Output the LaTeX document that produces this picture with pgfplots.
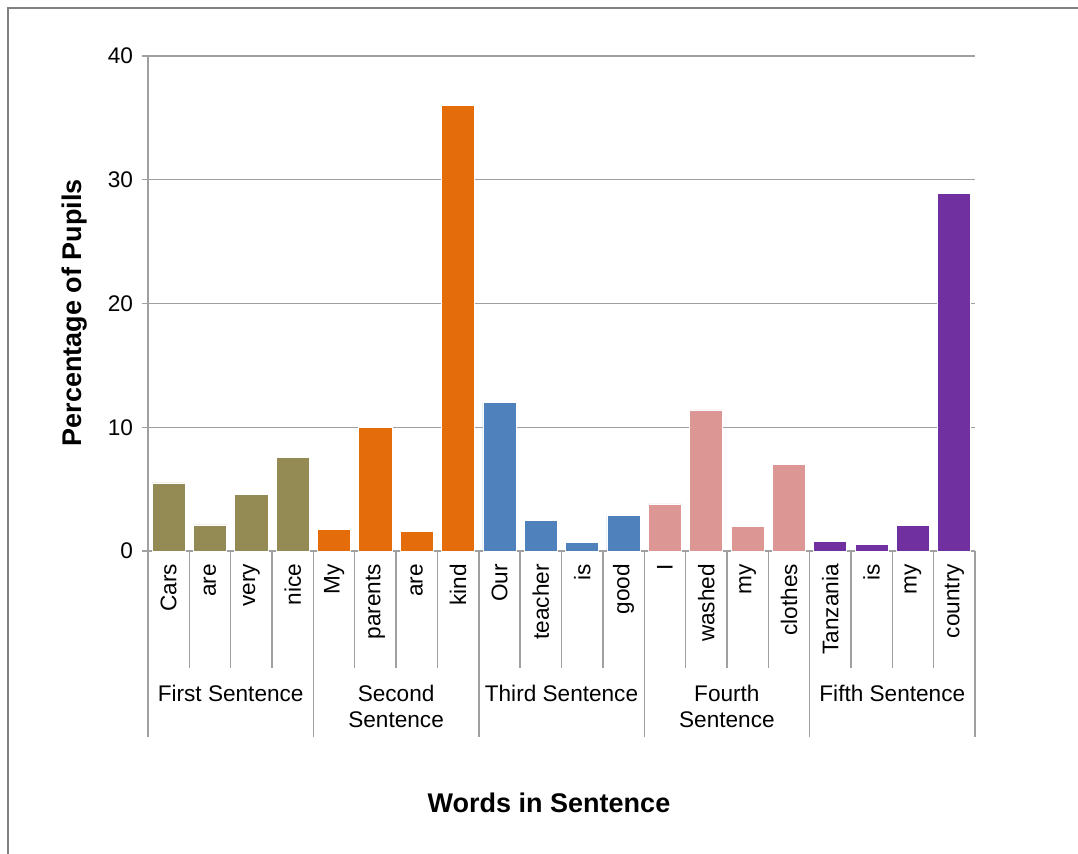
\documentclass[border=0pt]{standalone}
\usepackage{pgfplots}
\pgfplotsset{compat=1.18}
\usepackage{fontspec}
\setmainfont{Liberation Sans}
\definecolor{cOlive}{HTML}{948A54}
\definecolor{cOrange}{HTML}{E46C0A}
\definecolor{cBlue}{HTML}{4F81BD}
\definecolor{cPink}{HTML}{DC9694}
\definecolor{cPurple}{HTML}{7030A0}
\definecolor{cGrid}{HTML}{A0A0A0}
\newcommand{\lbl}{\fontsize{11.3}{13}\selectfont}
\begin{document}
\begin{tikzpicture}
\useasboundingbox (0,0) rectangle (539pt,427pt);
\draw[color=gray, line width=1pt] (4pt,0) -- (4pt,423pt) -- (539pt,423pt);
\begin{axis}[
  at={(74pt,151.5pt)}, anchor=south west,
  scale only axis, width=413.5pt, height=247.5pt,
  xmin=-0.5, xmax=19.5, ymin=0, ymax=40,
  axis x line*=bottom, axis y line*=left,
  axis line style={cGrid, line width=0.7pt, -},
  ytick={0,10,20,30,40},
  ymajorgrids, grid style={cGrid, line width=0.7pt},
  tick align=outside, major tick length=3pt,
  ytick style={cGrid, line width=0.7pt},
  xtick={0,...,19},
  xtick style={draw=none},
  xticklabels={Cars,are,very,nice,My,parents,are,kind,Our,teacher,is,good,I,washed,my,clothes,Tanzania,is,my,country},
  xticklabel style={rotate=90, anchor=east, font=\lbl},
  yticklabel style={font=\lbl, xshift=-1pt},
  /pgf/number format/assume math mode=true,
  clip=false,
]
\addplot[ybar, bar width=0.8, fill=cOlive, draw=white, line width=0.4pt] coordinates {(0,5.5) (1,2.1) (2,4.6) (3,7.55)};
\addplot[ybar, bar width=0.8, fill=cOrange, draw=white, line width=0.4pt] coordinates {(4,1.75) (5,10.0) (6,1.56) (7,36.0)};
\addplot[ybar, bar width=0.8, fill=cBlue, draw=white, line width=0.4pt] coordinates {(8,12.0) (9,2.5) (10,0.7) (11,2.85)};
\addplot[ybar, bar width=0.8, fill=cPink, draw=white, line width=0.4pt] coordinates {(12,3.8) (13,11.4) (14,1.95) (15,7.0)};
\addplot[ybar, bar width=0.8, fill=cPurple, draw=white, line width=0.4pt] coordinates {(16,0.8) (17,0.55) (18,2.05) (19,28.9)};
% separators
\draw[cGrid, line width=0.7pt] (axis cs:-0.5,0) -- ++(0pt,-93pt);
\draw[cGrid, line width=0.7pt] (axis cs:3.5,0) -- ++(0pt,-93pt);
\draw[cGrid, line width=0.7pt] (axis cs:7.5,0) -- ++(0pt,-93pt);
\draw[cGrid, line width=0.7pt] (axis cs:11.5,0) -- ++(0pt,-93pt);
\draw[cGrid, line width=0.7pt] (axis cs:15.5,0) -- ++(0pt,-93pt);
\draw[cGrid, line width=0.7pt] (axis cs:19.5,0) -- ++(0pt,-93pt);
\draw[cGrid, line width=0.7pt] (axis cs:0.5,0) -- ++(0pt,-58.5pt);
\draw[cGrid, line width=0.7pt] (axis cs:1.5,0) -- ++(0pt,-58.5pt);
\draw[cGrid, line width=0.7pt] (axis cs:2.5,0) -- ++(0pt,-58.5pt);
\draw[cGrid, line width=0.7pt] (axis cs:4.5,0) -- ++(0pt,-58.5pt);
\draw[cGrid, line width=0.7pt] (axis cs:5.5,0) -- ++(0pt,-58.5pt);
\draw[cGrid, line width=0.7pt] (axis cs:6.5,0) -- ++(0pt,-58.5pt);
\draw[cGrid, line width=0.7pt] (axis cs:8.5,0) -- ++(0pt,-58.5pt);
\draw[cGrid, line width=0.7pt] (axis cs:9.5,0) -- ++(0pt,-58.5pt);
\draw[cGrid, line width=0.7pt] (axis cs:10.5,0) -- ++(0pt,-58.5pt);
\draw[cGrid, line width=0.7pt] (axis cs:12.5,0) -- ++(0pt,-58.5pt);
\draw[cGrid, line width=0.7pt] (axis cs:13.5,0) -- ++(0pt,-58.5pt);
\draw[cGrid, line width=0.7pt] (axis cs:14.5,0) -- ++(0pt,-58.5pt);
\draw[cGrid, line width=0.7pt] (axis cs:16.5,0) -- ++(0pt,-58.5pt);
\draw[cGrid, line width=0.7pt] (axis cs:17.5,0) -- ++(0pt,-58.5pt);
\draw[cGrid, line width=0.7pt] (axis cs:18.5,0) -- ++(0pt,-58.5pt);
% group labels
\node[anchor=base, font=\lbl, yshift=-75.5pt] at (axis cs:1.5,0) {First Sentence};
\node[anchor=base, font=\lbl, yshift=-75.5pt] at (axis cs:5.5,0) {Second};
\node[anchor=base, font=\lbl, yshift=-88.5pt] at (axis cs:5.5,0) {Sentence};
\node[anchor=base, font=\lbl, yshift=-75.5pt] at (axis cs:9.5,0) {Third Sentence};
\node[anchor=base, font=\lbl, yshift=-75.5pt] at (axis cs:13.5,0) {Fourth};
\node[anchor=base, font=\lbl, yshift=-88.5pt] at (axis cs:13.5,0) {Sentence};
\node[anchor=base, font=\lbl, yshift=-75.5pt] at (axis cs:17.5,0) {Fifth Sentence};
\end{axis}
\node[rotate=90, font=\fontsize{13.5}{16}\bfseries\selectfont] at (37.5pt,270.5pt) {Percentage of Pupils};
\node[font=\fontsize{13.5}{16}\bfseries\selectfont] at (274.5pt,25.5pt) {Words in Sentence};
\end{tikzpicture}
\end{document}
